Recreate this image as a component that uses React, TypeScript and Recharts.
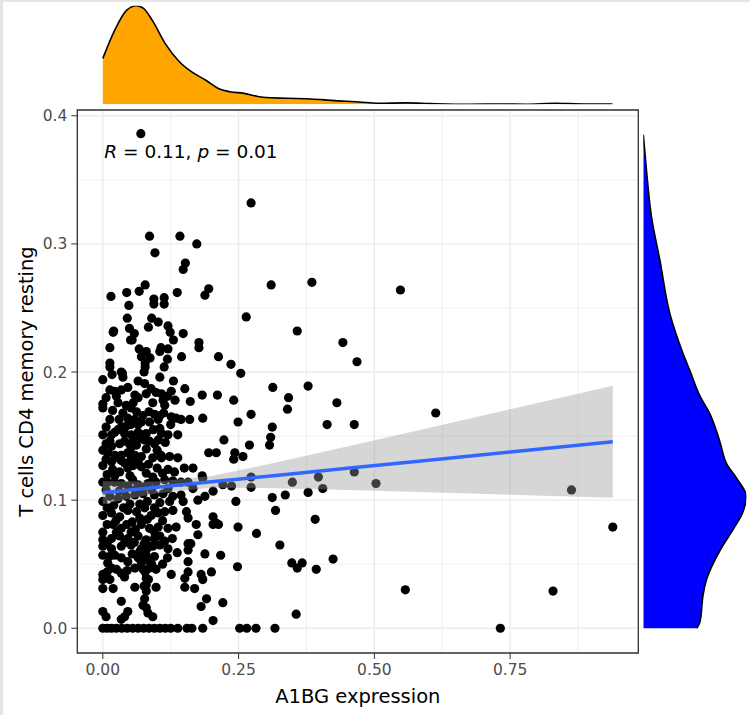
import React from 'react';
import {
  ComposedChart, AreaChart, Area, Line, Scatter,
  XAxis, YAxis, CartesianGrid, ReferenceArea,
} from 'recharts';

// x = A1BG expression, y = T cells CD4 memory resting
const points: [number, number][] = [
  // upper part, y > 0.19
  [0.070, 0.386], [0.273, 0.332], [0.086, 0.306], [0.142, 0.306], [0.173, 0.300], [0.096, 0.293],
  [0.152, 0.285], [0.148, 0.280], [0.078, 0.268], [0.067, 0.263], [0.137, 0.262], [0.044, 0.262],
  [0.015, 0.259], [0.310, 0.268], [0.385, 0.270], [0.548, 0.264], [0.195, 0.265], [0.188, 0.260],
  [0.094, 0.257], [0.094, 0.253], [0.113, 0.258], [0.113, 0.253], [0.048, 0.252], [0.045, 0.242],
  [0.090, 0.242], [0.102, 0.239], [0.084, 0.235], [0.049, 0.234], [0.058, 0.230], [0.051, 0.225],
  [0.054, 0.225], [0.019, 0.231], [0.020, 0.232], [0.120, 0.236], [0.124, 0.231], [0.130, 0.225],
  [0.148, 0.230], [0.264, 0.243], [0.358, 0.232], [0.442, 0.223], [0.468, 0.208], [0.013, 0.219],
  [0.067, 0.218], [0.080, 0.216], [0.071, 0.212], [0.087, 0.211], [0.078, 0.207], [0.078, 0.204],
  [0.107, 0.219], [0.120, 0.218], [0.105, 0.216], [0.119, 0.210], [0.113, 0.204], [0.145, 0.212],
  [0.177, 0.223], [0.177, 0.219], [0.213, 0.212], [0.236, 0.206], [0.254, 0.199], [0.013, 0.207],
  [0.013, 0.204], [0.036, 0.199], [0.017, 0.198], [0.000, 0.194], [0.065, 0.193], [0.105, 0.196],
  [0.130, 0.193], [0.034, 0.200], [0.037, 0.196], [0.076, 0.200],
  // 0.14 .. 0.19
  [0.077, 0.191], [0.089, 0.187], [0.151, 0.187], [0.013, 0.186], [0.022, 0.185], [0.034, 0.186],
  [0.046, 0.188], [0.025, 0.181], [0.059, 0.182], [0.065, 0.180], [0.108, 0.183], [0.126, 0.185],
  [0.119, 0.181], [0.111, 0.178], [0.133, 0.178], [0.114, 0.174], [0.161, 0.177], [0.183, 0.182],
  [0.211, 0.182], [0.241, 0.178], [0.000, 0.175], [0.000, 0.172], [0.043, 0.174], [0.052, 0.172],
  [0.062, 0.169], [0.037, 0.168], [0.074, 0.166], [0.085, 0.169], [0.046, 0.164], [0.059, 0.163],
  [0.071, 0.161], [0.065, 0.159], [0.052, 0.159], [0.086, 0.161], [0.013, 0.163], [0.105, 0.166],
  [0.102, 0.163], [0.126, 0.165], [0.135, 0.164], [0.144, 0.163], [0.160, 0.163], [0.184, 0.164],
  [0.125, 0.159], [0.249, 0.161], [0.273, 0.167], [0.034, 0.157], [0.028, 0.155], [0.022, 0.153],
  [0.040, 0.152], [0.016, 0.151], [0.000, 0.151], [0.052, 0.151], [0.065, 0.153], [0.071, 0.151],
  [0.080, 0.152], [0.065, 0.148], [0.077, 0.147], [0.086, 0.146], [0.105, 0.156], [0.108, 0.152],
  [0.120, 0.151], [0.102, 0.147], [0.095, 0.144], [0.138, 0.151], [0.223, 0.147], [0.013, 0.146],
  [0.016, 0.142], [0.031, 0.144], [0.049, 0.144], [0.062, 0.143], [0.052, 0.141], [0.309, 0.149],
  [0.307, 0.143], [0.312, 0.157], [0.313, 0.188], [0.378, 0.189], [0.342, 0.180], [0.340, 0.171],
  [0.431, 0.176], [0.413, 0.159], [0.463, 0.159], [0.613, 0.168],
  [0.006, 0.180], [0.028, 0.176], [0.056, 0.176], [0.092, 0.176], [0.098, 0.184], [0.080, 0.183],
  [0.018, 0.170], [0.030, 0.163], [0.095, 0.167], [0.112, 0.168], [0.006, 0.157], [0.044, 0.158],
  [0.093, 0.155], [0.057, 0.146], [0.040, 0.146], [0.115, 0.145], [0.100, 0.139], [0.080, 0.140],
  [0.006, 0.144],
  // 0.09 .. 0.14
  [0.000, 0.139], [0.009, 0.137], [0.022, 0.135], [0.034, 0.135], [0.046, 0.137], [0.059, 0.135],
  [0.071, 0.134], [0.028, 0.133], [0.052, 0.132], [0.065, 0.132], [0.107, 0.135], [0.123, 0.134],
  [0.138, 0.133], [0.195, 0.137], [0.209, 0.137], [0.243, 0.137], [0.258, 0.134], [0.270, 0.143],
  [0.000, 0.127], [0.016, 0.130], [0.034, 0.131], [0.065, 0.130], [0.071, 0.126], [0.046, 0.125],
  [0.031, 0.122], [0.108, 0.133], [0.120, 0.124], [0.132, 0.122], [0.166, 0.125], [0.241, 0.132],
  [0.000, 0.114], [0.009, 0.114], [0.022, 0.114], [0.034, 0.113], [0.055, 0.116], [0.046, 0.111],
  [0.065, 0.112], [0.083, 0.113], [0.098, 0.114], [0.114, 0.116], [0.129, 0.115], [0.144, 0.114],
  [0.157, 0.114], [0.184, 0.117], [0.166, 0.109], [0.203, 0.107], [0.221, 0.112], [0.237, 0.111],
  [0.273, 0.110], [0.000, 0.099], [0.013, 0.103], [0.028, 0.101], [0.043, 0.103], [0.059, 0.104],
  [0.074, 0.105], [0.095, 0.104], [0.111, 0.105], [0.129, 0.103], [0.144, 0.104], [0.105, 0.098],
  [0.123, 0.099], [0.148, 0.099], [0.175, 0.100], [0.188, 0.103], [0.245, 0.099], [0.273, 0.118],
  [0.349, 0.114], [0.397, 0.118], [0.405, 0.109], [0.463, 0.122], [0.312, 0.102], [0.336, 0.104],
  [0.318, 0.092], [0.378, 0.106], [0.391, 0.085], [0.183, 0.119], [0.503, 0.113], [0.863, 0.108],
  [0.939, 0.079],
  [0.006, 0.132], [0.040, 0.129], [0.056, 0.127], [0.084, 0.128], [0.092, 0.133], [0.100, 0.125],
  [0.018, 0.124], [0.008, 0.120], [0.022, 0.119], [0.050, 0.119], [0.080, 0.121], [0.092, 0.118],
  [0.110, 0.121], [0.150, 0.125], [0.006, 0.108], [0.030, 0.107], [0.060, 0.108], [0.075, 0.110],
  [0.090, 0.108], [0.120, 0.109], [0.020, 0.096], [0.050, 0.097], [0.082, 0.099], [0.068, 0.097],
  // 0.06 .. 0.09
  [0.000, 0.088], [0.016, 0.090], [0.031, 0.087], [0.046, 0.092], [0.062, 0.091], [0.077, 0.094],
  [0.089, 0.088], [0.102, 0.090], [0.114, 0.091], [0.129, 0.092], [0.154, 0.091], [0.157, 0.086],
  [0.203, 0.087], [0.209, 0.082], [0.172, 0.081], [0.249, 0.079], [0.000, 0.075], [0.019, 0.081],
  [0.034, 0.078], [0.052, 0.075], [0.071, 0.081], [0.086, 0.078], [0.102, 0.079], [0.120, 0.078],
  [0.135, 0.079], [0.203, 0.081], [0.213, 0.081], [0.000, 0.069], [0.016, 0.070], [0.031, 0.072],
  [0.046, 0.070], [0.065, 0.072], [0.080, 0.069], [0.095, 0.070], [0.114, 0.068], [0.175, 0.073],
  [0.000, 0.064], [0.016, 0.062], [0.034, 0.064], [0.052, 0.065], [0.071, 0.062], [0.086, 0.064],
  [0.105, 0.065], [0.120, 0.062], [0.157, 0.066], [0.162, 0.066], [0.283, 0.074], [0.326, 0.065],
  [0.008, 0.094], [0.038, 0.094], [0.095, 0.094], [0.024, 0.084], [0.054, 0.083], [0.068, 0.086],
  [0.082, 0.085], [0.110, 0.084], [0.008, 0.081], [0.044, 0.081], [0.094, 0.076], [0.060, 0.077],
  [0.025, 0.075], [0.008, 0.066], [0.040, 0.067], [0.058, 0.067], [0.076, 0.066], [0.105, 0.072],
  [0.128, 0.070],
  // 0 .. 0.06
  [0.000, 0.057], [0.022, 0.057], [0.034, 0.055], [0.046, 0.052], [0.009, 0.051], [0.068, 0.060],
  [0.080, 0.061], [0.092, 0.064], [0.065, 0.055], [0.071, 0.051], [0.083, 0.053], [0.095, 0.056],
  [0.059, 0.047], [0.074, 0.046], [0.086, 0.047], [0.098, 0.046], [0.080, 0.039], [0.119, 0.055],
  [0.137, 0.059], [0.157, 0.061], [0.157, 0.052], [0.188, 0.058], [0.217, 0.057], [0.248, 0.048],
  [0.025, 0.046], [0.034, 0.043], [0.040, 0.040], [0.000, 0.042], [0.000, 0.038], [0.126, 0.042],
  [0.151, 0.039], [0.157, 0.044], [0.181, 0.042], [0.184, 0.038], [0.200, 0.044], [0.013, 0.038],
  [0.019, 0.031], [0.000, 0.031], [0.059, 0.032], [0.080, 0.034], [0.080, 0.029], [0.098, 0.032],
  [0.151, 0.032], [0.169, 0.031], [0.034, 0.021], [0.046, 0.013], [0.040, 0.009], [0.034, 0.007],
  [0.077, 0.023], [0.074, 0.018], [0.080, 0.016], [0.083, 0.012], [0.092, 0.009], [0.191, 0.023],
  [0.181, 0.017], [0.221, 0.020], [0.000, 0.013], [0.006, 0.009], [0.203, 0.006], [0.348, 0.051],
  [0.358, 0.047], [0.367, 0.051], [0.393, 0.046], [0.424, 0.054], [0.356, 0.011], [0.557, 0.030],
  [0.829, 0.029],
  [0.012, 0.056], [0.054, 0.058], [0.080, 0.056], [0.090, 0.050], [0.078, 0.044], [0.084, 0.038],
  [0.076, 0.033], [0.016, 0.047], [0.045, 0.045], [0.110, 0.050], [0.008, 0.044],
  // zero row
  [0.000, 0], [0.008, 0], [0.016, 0], [0.025, 0], [0.035, 0], [0.045, 0], [0.055, 0], [0.065, 0],
  [0.075, 0], [0.085, 0], [0.095, 0], [0.105, 0], [0.115, 0], [0.125, 0], [0.138, 0], [0.155, 0],
  [0.164, 0], [0.184, 0], [0.252, 0], [0.265, 0], [0.282, 0], [0.317, 0], [0.732, 0],
];

// linear fit with 95% band
const fitX = [0, 0.1, 0.2, 0.3, 0.45, 0.6, 0.75, 0.939];
const fitY = [0.1058, 0.1100, 0.1143, 0.1185, 0.1249, 0.1312, 0.1376, 0.1456];
const fitLow = [0.0968, 0.1054, 0.1097, 0.1094, 0.1079, 0.1061, 0.1043, 0.1019];
const fitHigh = [0.1148, 0.1146, 0.1189, 0.1276, 0.1419, 0.1563, 0.1709, 0.1893];

// marginal density of x (relative height)
const densXAt = [0, 0.022, 0.044, 0.062, 0.075, 0.0925, 0.1146, 0.141, 0.163, 0.189, 0.216, 0.2335,
  0.26, 0.295, 0.339, 0.383, 0.4275, 0.4715, 0.507, 0.5596, 0.6036, 0.674, 0.736, 0.78, 0.833, 0.886, 0.9385];
const densX = [0.466, 0.753, 0.956, 1.0, 0.973, 0.838, 0.618, 0.432, 0.331, 0.247, 0.152, 0.128,
  0.111, 0.071, 0.061, 0.054, 0.037, 0.024, 0.010, 0.014, 0.007, 0.0, 0.003, 0.0, 0.010, 0.003, 0.003];

// marginal density of y (relative width)
const densYAt = [0, 0.0054, 0.0165, 0.0249, 0.0388, 0.0611, 0.0778, 0.089, 0.1029, 0.1168, 0.128,
  0.1447, 0.1531, 0.167, 0.181, 0.2005, 0.2172, 0.245, 0.2869, 0.3203, 0.3565, 0.3853];
const densY = [0.519, 0.552, 0.568, 0.578, 0.617, 0.747, 0.877, 0.958, 1.0, 0.909, 0.812,
  0.747, 0.714, 0.649, 0.552, 0.455, 0.373, 0.26, 0.162, 0.081, 0.032, 0.0];

const xTicks = [0, 0.25, 0.5, 0.75];
const yTicks = [0, 0.1, 0.2, 0.3, 0.4];
const xMinor = [0.125, 0.375, 0.625, 0.875];
const yMinor = [0.05, 0.15, 0.25, 0.35];
const xDomain: [number, number] = [-0.047, 0.986];
const yDomain: [number, number] = [-0.0193, 0.4045];

const FONT = '"DejaVu Sans", sans-serif';

const scatterData = points.map(([x, y]) => ({ x, y }));
const fitData = fitX.map((x, i) => ({ x, fit: fitY[i], band: [fitLow[i], fitHigh[i]] }));
const topData = densXAt.map((x, i) => ({ x, d: densX[i] }));
const sideData = densYAt.map((y, i) => ({ y, d: densY[i] }));

const tickStyle = { fontFamily: FONT, fontSize: 15.5, fill: '#4d4d4d' };

export default function App() {
  return (
    <div style={{ position: 'absolute', left: 0, top: 0, width: 750, height: 715, background: '#fff', overflow: 'hidden' }}>
      <div style={{ position: 'absolute', left: 0, top: 0, width: 3, height: 715, background: '#e5e5e5' }} />
      <div style={{ position: 'absolute', left: 0, top: 0, width: 750, height: 2, background: '#e5e5e5' }} />

      {/* main scatter panel */}
      <div style={{ position: 'absolute', left: 0, top: 0 }}>
        <ComposedChart width={750} height={715} data={fitData}
          margin={{ top: 110, right: 111.7, bottom: 0, left: 0 }}>
          <CartesianGrid stroke="#ebebeb" strokeWidth={1.4} />
          <CartesianGrid stroke="#ebebeb" strokeWidth={0.8}
            horizontalValues={yMinor} verticalValues={xMinor} />
          <XAxis type="number" dataKey="x" domain={xDomain} allowDataOverflow ticks={xTicks}
            tickFormatter={(v) => v.toFixed(2)} height={62} axisLine={false}
            tickSize={6} tickMargin={5} tickLine={{ stroke: '#333' }} tick={tickStyle} />
          <YAxis type="number" dataKey="y" domain={yDomain} allowDataOverflow ticks={yTicks}
            tickFormatter={(v) => v.toFixed(1)} width={77.3} axisLine={false}
            tickSize={6} tickMargin={4} tickLine={{ stroke: '#333' }} tick={tickStyle} />
          <Scatter data={scatterData} isAnimationActive={false} zIndex={50}
            shape={(p: any) => <circle cx={p.cx} cy={p.cy} r={4.6} fill="#000" />} />
          <Area dataKey="band" type="linear" stroke="none" fill="#999999" fillOpacity={0.4}
            isAnimationActive={false} zIndex={100} />
          <Line dataKey="fit" type="linear" stroke="#3366FF" strokeWidth={3.5} dot={false}
            isAnimationActive={false} zIndex={400} />
          <ReferenceArea x1={xDomain[0]} x2={xDomain[1]} y1={yDomain[0]} y2={yDomain[1]}
            fill="none" stroke="#333" strokeWidth={1.3} ifOverflow="visible" zIndex={700} />
        </ComposedChart>
      </div>

      {/* density of x on top */}
      <div style={{ position: 'absolute', left: 0, top: 0 }}>
        <AreaChart width={750} height={110} data={topData}
          margin={{ top: 5.7, right: 111.7, bottom: 5.7, left: 77.3 }}>
          <XAxis type="number" dataKey="x" domain={xDomain} allowDataOverflow hide />
          <YAxis type="number" domain={[0, 1]} allowDataOverflow hide />
          <Area dataKey="d" type="monotone" fill="#FFA500" fillOpacity={1} stroke="#000"
            strokeWidth={1.6} isAnimationActive={false} />
        </AreaChart>
      </div>

      {/* density of y on the right */}
      <div style={{ position: 'absolute', left: 0, top: 0 }}>
        <AreaChart width={750} height={715} data={sideData} layout="vertical"
          margin={{ top: 110, right: 3.7, bottom: 62, left: 643.3 }}>
          <XAxis type="number" domain={[0, 1]} allowDataOverflow hide />
          <YAxis type="number" dataKey="y" domain={yDomain} allowDataOverflow reversed hide />
          <Area dataKey="d" type="monotone" fill="#0000FF" fillOpacity={1} stroke="#000"
            strokeWidth={1.6} isAnimationActive={false} />
        </AreaChart>
      </div>

      {/* texts */}
      <svg width={750} height={715} style={{ position: 'absolute', left: 0, top: 0, pointerEvents: 'none' }}>
        <text x={104.3} y={157.7} fontFamily={FONT} fontSize={18.5} fill="#000">
          <tspan fontStyle="italic">R</tspan> = 0.11, <tspan fontStyle="italic">p</tspan> = 0.01
        </text>
        <text x={357.8} y={703} fontFamily={FONT} fontSize={19.5} fill="#000" textAnchor="middle">
          A1BG expression
        </text>
        <text x={33} y={381.5} fontFamily={FONT} fontSize={19.5} fill="#000" textAnchor="middle"
          transform="rotate(-90, 33, 381.5)">
          T cells CD4 memory resting
        </text>
      </svg>
    </div>
  );
}
